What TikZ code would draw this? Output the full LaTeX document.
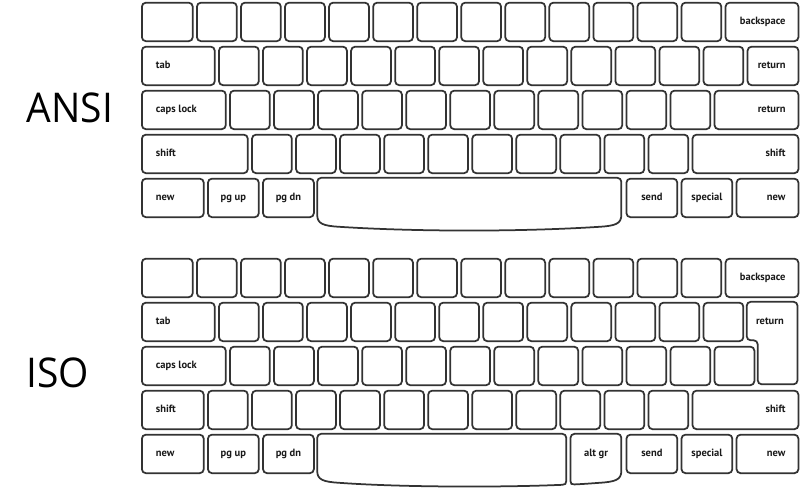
\documentclass[tikz,border=0pt]{standalone}
\usepackage{fontspec}
\newfontfamily\keyfont{PT Sans}
\newfontfamily\bigfont{Open Sans}
\definecolor{keyline}{HTML}{333333}
\definecolor{txt}{HTML}{1A1A1A}
\tikzset{
  keybox/.style={draw=keyline, line width=1.75pt, rounded corners=4pt, fill=white,
    minimum height=38.5pt, inner sep=0pt, text height=8pt, text depth=2pt,
    font=\keyfont\bfseries\fontsize{10.5}{12}\selectfont, text=txt},
  lbl/.style={inner sep=0pt, text height=8pt, text depth=2pt,
    font=\keyfont\bfseries\fontsize{10.5}{12}\selectfont, text=txt},
  bigl/.style={inner sep=0pt, anchor=base west, xscale=0.95, font=\bigfont\fontsize{41}{45}\selectfont, text=black},
  spacekey/.style={draw=keyline, line width=1.75pt, fill=white},
}
\newcommand\keyc[5]{%
  \pgfmathsetmacro\kbX{141+(#3)*44.05}%
  \pgfmathsetmacro\kbW{(#4)*44.05-4.2}%
  \node[keybox,minimum width=\kbW pt,anchor=north west] (#1) at (\kbX,#2) {#5};}
\newcommand\keyl[5]{\keyc{#1}{#2}{#3}{#4}{}%
  \node[lbl,anchor=west] (#1-t) at ([xshift=14.7pt]#1.west) {#5};}
\newcommand\keyr[5]{\keyc{#1}{#2}{#3}{#4}{}%
  \node[lbl,anchor=east] (#1-t) at ([xshift=-13.6pt]#1.east) {#5};}
\begin{document}
\begin{tikzpicture}[x=1pt,y=-1pt]
\fill[white] (0,0) rectangle (800,488);
\useasboundingbox (0,0) rectangle (800,488);
% labels
\node[bigl] (ansi) at (26.5,122.7) {ANSI};
\node[bigl] (iso) at (26.5,387.7) {ISO};
% ================= ANSI =================
\keyc{a1-0}{1.8}{0}{1.25}{}
\foreach \i in {0,...,11} {\keyc{a1-k\i}{1.8}{1.25+\i}{1}{}}
\keyr{a1-bs}{1.8}{13.25}{1.75}{backspace}
\keyl{a2-tab}{45.8}{0}{1.75}{tab}
\foreach \i in {0,...,11} {\keyc{a2-k\i}{45.8}{1.75+\i}{1}{}}
\keyr{a2-ret}{45.8}{13.75}{1.25}{return}
\keyl{a3-caps}{89.8}{0}{2}{caps lock}
\foreach \i in {0,...,10} {\keyc{a3-k\i}{89.8}{2+\i}{1}{}}
\keyr{a3-ret}{89.8}{13}{2}{return}
\keyl{a4-ls}{133.8}{0}{2.5}{shift}
\foreach \i in {0,...,9} {\keyc{a4-k\i}{133.8}{2.5+\i}{1}{}}
\keyr{a4-rs}{133.8}{12.5}{2.5}{shift}
\keyl{a5-new}{177.8}{0}{1.5}{new}
\keyc{a5-pgup}{177.8}{1.5}{1.25}{pg up}
\keyc{a5-pgdn}{177.8}{2.75}{1.25}{pg dn}
\draw[spacekey] (317.2,197.8) [rounded corners=4pt] -- (317.2,177.8) -- (621.35,177.8) -- (621.35,197.8)
  [sharp corners] -- (621.35,214.8) .. controls (621.35,223.8) and (615.35,225.8) .. (599.35,226.8)
  .. controls (521.35,231.8) and (417.2,231.8) .. (339.2,226.8)
  .. controls (323.2,225.8) and (317.2,223.8) .. (317.2,214.8) -- cycle;
\keyc{a5-send}{177.8}{11}{1.25}{send}
\keyc{a5-spec}{177.8}{12.25}{1.25}{special}
\keyr{a5-new2}{177.8}{13.5}{1.5}{new}
% ================= ISO =================
\keyc{i1-0}{257.8}{0}{1.25}{}
\foreach \i in {0,...,11} {\keyc{i1-k\i}{257.8}{1.25+\i}{1}{}}
\keyr{i1-bs}{257.8}{13.25}{1.75}{backspace}
\keyl{i2-tab}{301.8}{0}{1.75}{tab}
\foreach \i in {0,...,11} {\keyc{i2-k\i}{301.8}{1.75+\i}{1}{}}
\draw[spacekey, rounded corners=4pt] (770,301.8) -- (797.55,301.8) -- (797.55,384.3) -- (757.7,384.3)
  -- (757.7,340.3) -- (746.7,340.3) -- (746.7,301.8) -- cycle;
\node[lbl,anchor=east] (i2-ret-t) at (783.95,321.05) {return};
\keyl{i3-caps}{345.8}{0}{2}{caps lock}
\foreach \i in {0,...,11} {\keyc{i3-k\i}{345.8}{2+\i}{1}{}}
\keyl{i4-ls}{389.8}{0}{1.5}{shift}
\foreach \i in {0,...,10} {\keyc{i4-k\i}{389.8}{1.5+\i}{1}{}}
\keyr{i4-rs}{389.8}{12.5}{2.5}{shift}
\keyl{i5-new}{433.8}{0}{1.5}{new}
\keyc{i5-pgup}{433.8}{1.5}{1.25}{pg up}
\keyc{i5-pgdn}{433.8}{2.75}{1.25}{pg dn}
\draw[spacekey] (566.3,453.8) [rounded corners=4pt] -- (566.3,433.8) -- (317.2,433.8) -- (317.2,453.8)
  [sharp corners] -- (317.2,470.8) .. controls (317.2,479.8) and (323.2,481.8) .. (339.2,482.8)
  .. controls (405,487.5) and (505,487.3) .. (562.3,484.8)
  .. controls (565,484.6) and (566.3,484) .. (566.3,481) -- cycle;
\draw[spacekey] (570.5,453.8) [rounded corners=4pt] -- (570.5,433.8) -- (621.35,433.8) -- (621.35,453.8)
  [sharp corners] -- (621.35,470.8) .. controls (621.35,479.8) and (615.35,481.8) .. (599.35,482.8)
  .. controls (590,483.5) and (580,484.2) .. (574.5,484.4)
  .. controls (571.5,484.5) and (570.5,484) .. (570.5,481) -- cycle;
\node[lbl] (i5-altgr) at (596,453.05) {alt gr};
\keyc{i5-send}{433.8}{11}{1.25}{send}
\keyc{i5-spec}{433.8}{12.25}{1.25}{special}
\keyr{i5-new2}{433.8}{13.5}{1.5}{new}
\end{tikzpicture}
\end{document}
